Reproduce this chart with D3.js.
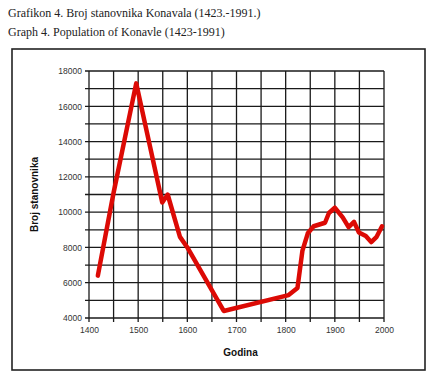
<!DOCTYPE html>
<html>
<head>
<meta charset="utf-8">
<script src="https://cdn.jsdelivr.net/npm/d3@7"></script>
<style>
    body { margin: 0; background: #fff; }
    .tick text { font-family: "Liberation Sans", Arial, sans-serif; font-size: 8.5px; fill: #333; }
</style>
</head>
<body>
<div id="chart"></div>
<script>
// population of Konavle
const years = [1418, 1450, 1496, 1549, 1560, 1585, 1600, 1674, 1806, 1824, 1834, 1845, 1857, 1880, 1888, 1900, 1916, 1928, 1939, 1949, 1963, 1974, 1985, 1996];
const population = [6400, 11100, 17300, 10550, 11000, 8600, 8000, 4400, 5300, 5700, 7800, 8800, 9200, 9400, 9950, 10250, 9700, 9150, 9450, 8850, 8650, 8300, 8600, 9200];
const xTicks = [1400, 1500, 1600, 1700, 1800, 1900, 2000];
const yTicks = [4000, 6000, 8000, 10000, 12000, 14000, 16000, 18000];

const titles = ["Grafikon 4. Broj stanovnika Konavala (1423.-1991.)", "Graph 4. Population of Konavle (1423-1991)"];

const W = 432, H = 380;
const margin = {top: 71, right: 48, bottom: 62, left: 89};
const width = 384 - margin.left, height = 318 - margin.top;

let svg = d3.select("#chart").append("svg")
    .attr("width", W)
    .attr("height", H);

// titles above the frame
svg.selectAll(".title")
    .data(titles)
    .enter().append("text")
    .attr("class", "title")
    .attr("x", 8)
    .attr("y", (d, i) => 17 + i * 19)
    .style("font-family", "'Liberation Serif', 'Times New Roman', serif")
    .style("font-size", "12px")
    .style("fill", "#222")
    .text(d => d);

// outer frame
svg.append("rect")
    .attr("x", 12)
    .attr("y", 49)
    .attr("width", 413)
    .attr("height", 321)
    .attr("fill", "none")
    .attr("stroke", "#222")
    .attr("stroke-width", 1.6);

let g = svg.append("g")
    .attr("transform", "translate(" + margin.left + "," + margin.top + ")");

let x = d3.scaleLinear().domain([1400, 2000]).range([0, width]);
let y = d3.scaleLinear().domain([4000, 18000]).range([height, 0]);

// grid
g.append("g")
    .selectAll("line")
    .data(d3.range(1400, 2001, 50))
    .enter().append("line")
    .attr("x1", d => x(d)).attr("x2", d => x(d))
    .attr("y1", 0).attr("y2", height + 4)
    .attr("stroke", "#1a1a1a")
    .attr("stroke-width", 1.3);

g.append("g")
    .selectAll("line")
    .data(d3.range(4000, 18001, 1000))
    .enter().append("line")
    .attr("x1", -4).attr("x2", width)
    .attr("y1", d => y(d)).attr("y2", d => y(d))
    .attr("stroke", "#1a1a1a")
    .attr("stroke-width", 1.3);

// axes (labels only)
g.append("g")
    .attr("class", "x axis")
    .attr("transform", "translate(0," + height + ")")
    .call(d3.axisBottom(x).tickValues(xTicks).tickFormat(d3.format("d")).tickSize(0).tickPadding(9))
    .call(a => a.select(".domain").remove());

g.append("g")
    .attr("class", "y axis")
    .call(d3.axisLeft(y).tickValues(yTicks).tickFormat(d3.format("d")).tickSize(0).tickPadding(7))
    .call(a => a.select(".domain").remove());

// axis titles
g.append("text")
    .attr("x", width / 2 + 4)
    .attr("y", height + 38)
    .attr("text-anchor", "middle")
    .style("font-family", "'Liberation Sans', Arial, sans-serif")
    .style("font-weight", "bold")
    .style("font-size", "10px")
    .style("fill", "#111")
    .text("Godina");

g.append("text")
    .attr("transform", "translate(-51," + (height / 2) + ") rotate(-90)")
    .attr("text-anchor", "middle")
    .style("font-family", "'Liberation Sans', Arial, sans-serif")
    .style("font-weight", "bold")
    .style("font-size", "10px")
    .style("fill", "#111")
    .text("Broj stanovnika");

// the line
let line = d3.line()
    .x((d, i) => x(years[i]))
    .y(d => y(d));

g.append("path")
    .datum(population)
    .attr("fill", "none")
    .attr("stroke", "#dc0a05")
    .attr("stroke-width", 4.5)
    .attr("stroke-linejoin", "round")
    .attr("stroke-linecap", "round")
    .attr("d", line);
</script>
</body>
</html>
